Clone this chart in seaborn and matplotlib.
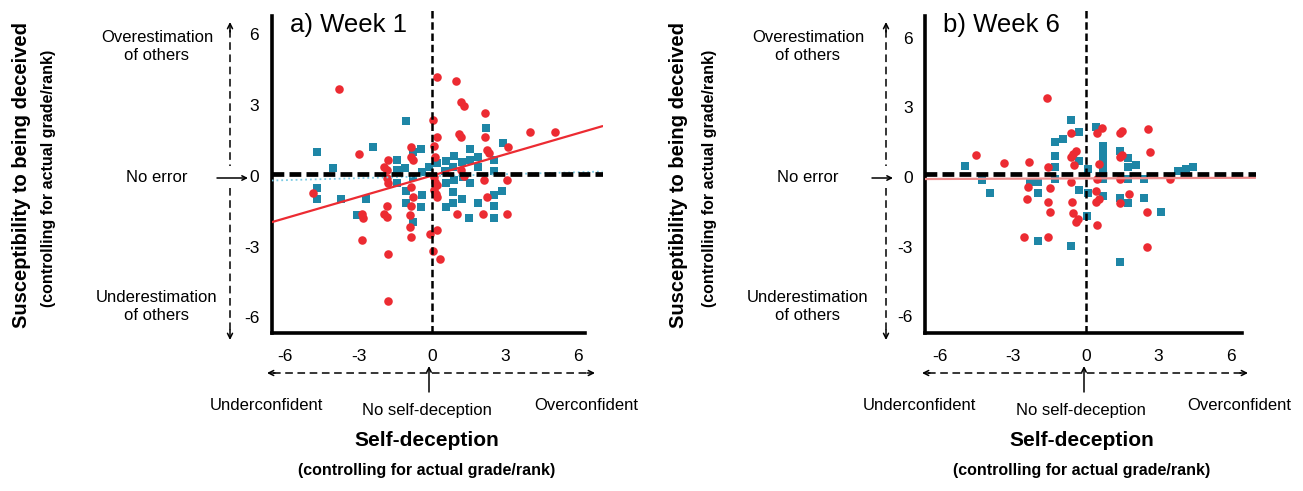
import numpy as np
import pandas as pd
import matplotlib.pyplot as plt
import seaborn as sns
from matplotlib.lines import Line2D
from matplotlib.patches import FancyArrowPatch

sns.set_style("white")
plt.rcParams["font.family"] = ["Liberation Sans", "DejaVu Sans"]
plt.rcParams["axes.unicode_minus"] = False
plt.rcParams["text.color"] = "black"
plt.rcParams["xtick.color"] = "black"
plt.rcParams["ytick.color"] = "black"
plt.rcParams["axes.labelcolor"] = "black"

RED = "#EC2B32"
BLUE = "#1E86A6"

# ---- Week 1 data (self-deception x, susceptibility y) ----
w1_red_x = [-3.8, 0.2, 0.98, 1.2, 1.34, 2.2, 0.07, 4.03, 5.05, 0.2, 1.12, 1.2, 2.2, -0.85, 0.1,
            -3.0, 3.14, 2.25, 2.36, -0.85, -0.75, -1.8, -1.94, -1.84, 0.14, 1.2, 0.1, -1.82, 2.16,
            3.09, -1.78, 0.14, 0.2, -0.85, 0.1, -0.75, 0.23, 2.25, -1.84, -0.85, -1.84, -1.94,
            -0.89, -2.8, -2.84, 1.05, 2.09, 3.07, -0.89, -0.85, 0.2, -2.84, -4.87, -1.8, -1.8,
            -0.07, 0.07, 0.34, 1.34, 0.16]
w1_red_y = [3.66, 4.17, 4.0, 3.14, 2.97, 2.64, 2.36, 1.86, 1.86, 1.65, 1.77, 1.65, 1.65, 1.23, 1.27,
            0.93, 1.23, 1.09, 0.95, 0.8, 0.67, 0.67, 0.38, 0.24, 0.8, 0.24, -0.04, -0.11, -0.18,
            -0.2, -0.32, -0.25, -0.39, -0.47, -0.61, -0.89, -0.89, -0.89, -1.28, -1.28, -1.74, -1.64,
            -1.67, -1.8, -1.64, -1.64, -1.64, -1.64, -2.16, -2.58, -2.3, -2.72, -0.75, -3.33, -5.31,
            -2.48, -3.19, -3.53, -0.01, -0.78]
w1_blue_x = [-4.71, -4.06, -2.39, -1.07, -1.41, -1.09, -1.41, -0.75, -0.44, -0.1, 0.23, 0.57, 0.91,
             0.89, 1.23, 1.57, 1.57, 1.91, 1.91, 2.21, 2.55, 2.91, -0.41, 0.55, 2.55, 1.27, -4.71,
             -4.71, -3.72, -2.7, -3.06, -1.43, -1.07, -0.75, -0.41, -1.07, -0.44, -0.75, 0.59, 0.91,
             0.89, 1.25, 0.59, 1.88, 1.54, 2.55, 2.89, 2.55, 2.55, 0.89, 1.57]
w1_blue_y = [0.99, 0.34, 1.2, 2.32, 0.67, 0.31, 0.24, 1.02, 1.13, 0.38, 0.52, 0.64, 0.85,
             0.36, 0.59, 1.13, 0.67, 0.78, 0.38, 2.03, 0.67, 1.37, 0.17, 0.2, 0.21, -0.07, -0.5,
             -1.0, -1.0, -0.97, -1.67, -0.32, -0.64, -0.04, -0.82, -1.17, -1.34, -1.97, -0.32, -0.18,
             -0.68, -0.99, -1.31, -1.14, -1.81, -0.82, -0.65, -1.28, -1.81, -1.17, -0.32]

# ---- Week 6 data ----
w6_red_x = [-1.6, -0.61, 0.45, 0.66, 1.41, 1.51, 2.58, -4.54, -3.37, -2.33, -1.54, -0.61, -0.52,
            -0.42, -0.5, 0.56, 1.41, 1.48, 2.63, 3.49, -2.37, -2.43, -1.47, -1.54, -1.47, -0.6,
            -0.55, -0.51, -0.42, -0.3, 0.42, 0.42, 0.55, 0.45, 1.41, 1.8, 2.51, -2.54, -1.54, 2.51,
            0.45, 1.41]
w6_red_y = [3.39, 1.88, 1.91, 2.1, 1.88, 2.0, 2.06, 0.93, 0.59, 0.65, 0.43, 0.88, 1.0,
            1.1, 0.5, 0.54, 0.88, 0.97, 1.09, -0.08, -0.42, -0.96, -0.46, -1.06, -1.52, -0.2,
            -1.07, -1.56, -1.95, -1.8, -0.62, -1.06, -0.95, -2.07, -1.13, -0.73, -1.52, -2.6, -2.6, -3.03,
            -0.1, -0.1]
w6_blue_x = [-4.98, -0.61, -1.27, -0.95, -0.26, 0.41, -1.27, -1.27, -0.26, 0.73, 0.73, 0.73, 0.73,
             0.73, 1.41, 1.76, 1.76, 2.08, 3.8, 4.12, 4.44, 0.09, -4.29, -3.95, -2.28, -1.95, -1.95,
             -1.27, -0.26, 0.09, 0.06, 0.73, 0.73, 1.41, 1.76, 1.76, 2.42, 2.42, 3.1, -1.95, -0.61, 1.41]
w6_blue_y = [0.47, 2.44, 1.52, 1.62, 1.94, 2.14, 0.91, 0.45, 0.71, 1.35, 1.1, 0.85, 0.6,
             0.35, 1.13, 0.81, 0.44, 0.52, 0.25, 0.34, 0.42, 0.35, -0.13, -0.7, -0.22, -0.22, -0.7,
             -0.1, -0.57, -0.7, -1.7, -0.1, -0.82, -0.92, -1.1, -0.1, -0.1, -0.92, -1.52, -2.74, -2.96, -3.68]

# regression fits (slope, intercept)
w1_red_fit = (0.30, 0.0)
w1_blue_fit = (0.028, -0.02)
w6_red_fit = (0.004, -0.06)

W_PX, H_PX = 1303, 491
fig = plt.figure(figsize=(W_PX / 100, H_PX / 100), dpi=100)


def fpt(x, y):
    return (x / W_PX, 1 - y / H_PX)


def add_axes(left, right, top, bottom):
    return fig.add_axes([left / W_PX, 1 - bottom / H_PX, (right - left) / W_PX, (bottom - top) / H_PX])


def draw_panel(ax, rx, ry, bx, by, fits, xlim, ylim, spine_top, spine_right, ref_y, title):
    df_r = pd.DataFrame({"x": rx, "y": ry})
    df_b = pd.DataFrame({"x": bx, "y": by})
    sns.scatterplot(data=df_b, x="x", y="y", marker="s", color=BLUE, s=27, linewidth=0, ax=ax, zorder=3)
    sns.scatterplot(data=df_r, x="x", y="y", marker="o", color=RED, s=38, linewidth=0, ax=ax, zorder=3)
    xs = np.linspace(xlim[0], xlim[1], 50)
    for (slope, icpt), col, ls, lw in fits:
        sns.lineplot(x=xs, y=slope * xs + icpt, color=col, linestyle=ls, linewidth=lw, ax=ax, zorder=4)
    ax.axhline(ref_y, color="black", lw=3.4, ls=(0, (2.5, 1.1)), zorder=5)
    ax.axvline(0, color="black", lw=1.8, ls=(0, (3.0, 1.5)), zorder=5)
    ax.set_xlim(*xlim)
    ax.set_ylim(*ylim)
    ax.set_xticks([-6, -3, 0, 3, 6])
    ax.set_yticks([-6, -3, 0, 3, 6])
    ax.set_xlabel("")
    ax.set_ylabel("")
    for s in ["top", "right"]:
        ax.spines[s].set_visible(False)
    for s in ["left", "bottom"]:
        ax.spines[s].set_linewidth(2.6)
        ax.spines[s].set_color("black")
    ax.spines["left"].set_bounds(ylim[0], spine_top)
    ax.spines["bottom"].set_bounds(xlim[0], spine_right)
    ax.tick_params(axis="both", direction="out", length=3, width=1, labelsize=12.5,
                   colors="black", labelcolor="black")
    ax.tick_params(axis="y", pad=6)
    ax.tick_params(axis="x", pad=9)
    ax.set_facecolor("white")
    ax.text(0.055, 0.985, title, transform=ax.transAxes, fontsize=18.5, va="top", ha="left",
            color="black")


ax1 = add_axes(271.7, 602.5, 8.1, 332.7)
draw_panel(ax1, w1_red_x, w1_red_y, w1_blue_x, w1_blue_y,
           [(w1_blue_fit, "#7CCBE3", ":", 1.3), (w1_red_fit, RED, "-", 1.6)],
           (-6.56, 7.0), (-6.65, 7.1), 6.77, 6.3, 0.07, "a) Week 1")

ax2 = add_axes(925, 1255.5, 8.1, 332.7)
draw_panel(ax2, w6_red_x, w6_red_y, w6_blue_x, w6_blue_y,
           [(w6_red_fit, "#F08C8C", "-", 1.6)],
           (-6.63, 7.0), (-6.71, 7.28), 6.94, 6.43, 0.12, "b) Week 6")


def text(x, y, s, **kw):
    fig.text(*fpt(x, y), s, ha="center", va="center", color="black", **kw)


def dashed(p0, p1):
    (x0, y0), (x1, y1) = fpt(*p0), fpt(*p1)
    fig.add_artist(Line2D([x0, x1], [y0, y1], transform=fig.transFigure,
                          color="black", lw=1.1, ls=(0, (5, 3))))


def head(tail, tip, ms=9):
    fig.add_artist(FancyArrowPatch(fpt(*tail), fpt(*tip), transform=fig.transFigure,
                                   arrowstyle="->", mutation_scale=ms, lw=1.1, color="black",
                                   shrinkA=0, shrinkB=0))


for (ylab_x, sub_x, ann_x, arr_x, arr0, arr1, bx0, bx1, up_x, under_x, nsd_x, over_x, sd_x) in [
        (22, 49, 157, 230, 217, 248, 267, 595, 429, 266, 427, 586, 427),
        (678, 709, 808, 886, 872, 893, 922, 1248, 1084, 919, 1081, 1239, 1082)]:
    text(ylab_x, 175, "Susceptibility to being deceived", rotation=90, fontsize=14.5, fontweight="bold")
    text(sub_x, 178, "(controlling for actual grade/rank)", rotation=90, fontsize=11.5, fontweight="bold")
    text(ann_x, 46, "Overestimation\nof others", fontsize=12, linespacing=1.25)
    text(ann_x, 177, "No error", fontsize=12)
    text(ann_x, 307, "Underestimation\nof others", fontsize=12, linespacing=1.25)
    # vertical dashed arrow
    dashed((arr_x, 30), (arr_x, 166))
    dashed((arr_x, 188), (arr_x, 332))
    head((arr_x, 32), (arr_x, 22))
    head((arr_x, 330), (arr_x, 340))
    head((arr0, 178), (arr1, 178), ms=8)
    # horizontal dashed arrow
    dashed((bx0 + 6, 373), (bx1 - 6, 373))
    head((bx0 + 8, 373), (bx0, 373))
    head((bx1 - 8, 373), (bx1, 373))
    head((up_x, 392), (up_x, 366), ms=8)
    text(under_x, 405, "Underconfident", fontsize=12)
    text(nsd_x, 410, "No self-deception", fontsize=12)
    text(over_x, 405, "Overconfident", fontsize=12)
    text(sd_x, 440, "Self-deception", fontsize=15, fontweight="bold")
    text(sd_x, 470, "(controlling for actual grade/rank)", fontsize=11.5, fontweight="bold")

fig.savefig("out.png", dpi=100, facecolor="white")
